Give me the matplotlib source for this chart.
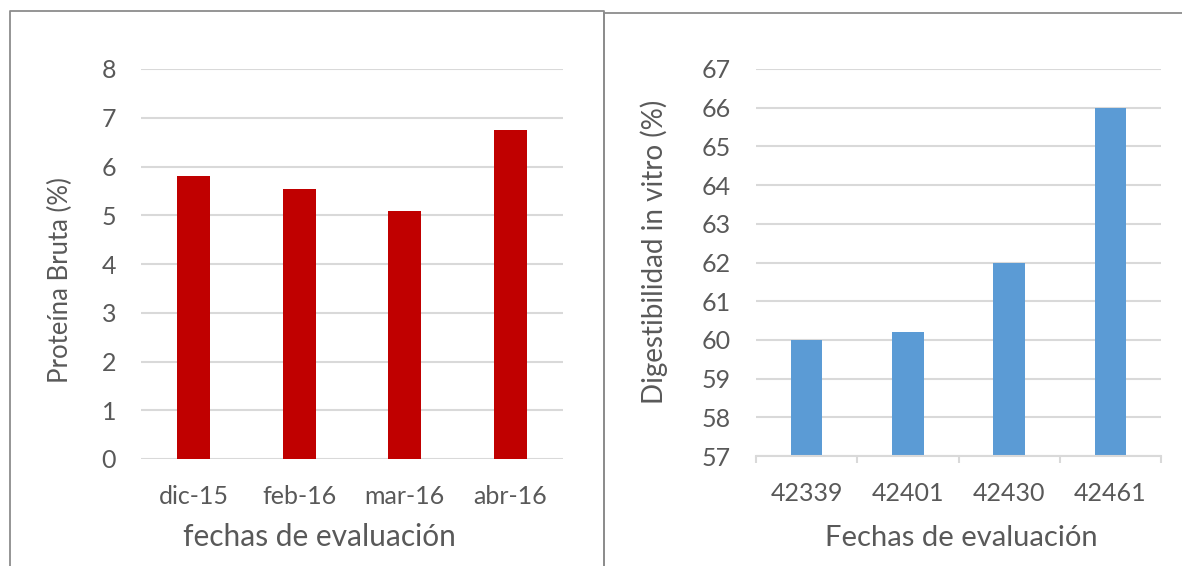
import matplotlib.pyplot as plt
from matplotlib.lines import Line2D

# Protein content by sampling date
fechas = ["dic-15", "feb-16", "mar-16", "abr-16"]
proteina = [5.8, 5.53, 5.09, 6.75]

# In vitro digestibility (dates kept as Excel serial numbers)
fechas_serial = ["42339", "42401", "42430", "42461"]
digestibilidad = [60.0, 60.2, 62.0, 66.0]

TEXT = "#595959"
GRID = "#D9D9D9"
BORDER = "#8C8C8C"

plt.rcParams["font.family"] = ["Lato", "DejaVu Sans"]
plt.rcParams["font.size"] = 18

W, H = 1182, 566
fig = plt.figure(figsize=(W / 100, H / 100), dpi=100)


def fx(px):
    return px / W


def fy(py):
    return 1 - py / H


# chart frames
fig.add_artist(Line2D([fx(10), fx(10), fx(604), fx(604)],
                      [0, fy(11), fy(11), 0], color=BORDER, lw=1.3))
fig.add_artist(Line2D([fx(604), fx(604), 1],
                      [0, fy(13), fy(13)], color=BORDER, lw=1.3))


def style_axes(ax):
    for s in ax.spines.values():
        s.set_visible(False)
    ax.set_axisbelow(True)
    ax.yaxis.grid(True, color=GRID, lw=1.5)
    ax.tick_params(axis="y", length=0, pad=18, labelcolor=TEXT)
    ax.tick_params(axis="x", which="major", length=0, pad=19, labelcolor=TEXT)


# left: Proteína Bruta
ax1 = fig.add_axes([fx(141), fy(459), fx(563 - 141), fy(69) - fy(459)])
style_axes(ax1)
x1 = range(len(fechas))
ax1.bar(x1, proteina, width=0.31, color="#C00000", zorder=2)
ax1.set_xlim(-0.5, 3.5)
ax1.set_ylim(0, 8)
ax1.set_yticks(range(0, 9))
ax1.set_xticks(list(x1))
ax1.set_xticklabels(fechas)
ax1.set_ylabel("Proteína Bruta (%)", color=TEXT, fontsize=18.5)
ax1.yaxis.set_label_coords(-0.161, 0.459)
ax1.set_xlabel("fechas de evaluación", color=TEXT, fontsize=21.5)
ax1.xaxis.set_label_coords(0.424, -0.2)
ax1.xaxis.label.set_va("center")

# right: Digestibilidad in vitro
ax2 = fig.add_axes([fx(756), fy(456), fx(1161 - 756), fy(69) - fy(456)])
style_axes(ax2)
x2 = range(len(fechas_serial))
ax2.bar(x2, digestibilidad, width=0.31, color="#5B9BD5", zorder=2)
ax2.set_xlim(-0.5, 3.5)
ax2.set_ylim(57, 67)
ax2.set_yticks(range(57, 68))
ax2.set_xticks(list(x2))
ax2.set_xticklabels(fechas_serial)
ax2.set_xticks([i - 0.5 for i in range(len(fechas_serial) + 1)], minor=True)
ax2.tick_params(axis="x", which="minor", length=5, width=1.5, color=GRID)
ax2.spines["bottom"].set_visible(True)
ax2.spines["bottom"].set_color(GRID)
ax2.spines["bottom"].set_linewidth(1.5)
ax2.set_ylabel("Digestibilidad in vitro (%)", color=TEXT, fontsize=20)
ax2.yaxis.set_label_coords(-0.217, 0.527)
ax2.set_xlabel("Fechas de evaluación", color=TEXT, fontsize=21)
ax2.xaxis.set_label_coords(0.506, -0.212)
ax2.xaxis.label.set_va("center")

fig.savefig("out.png", dpi=100)
